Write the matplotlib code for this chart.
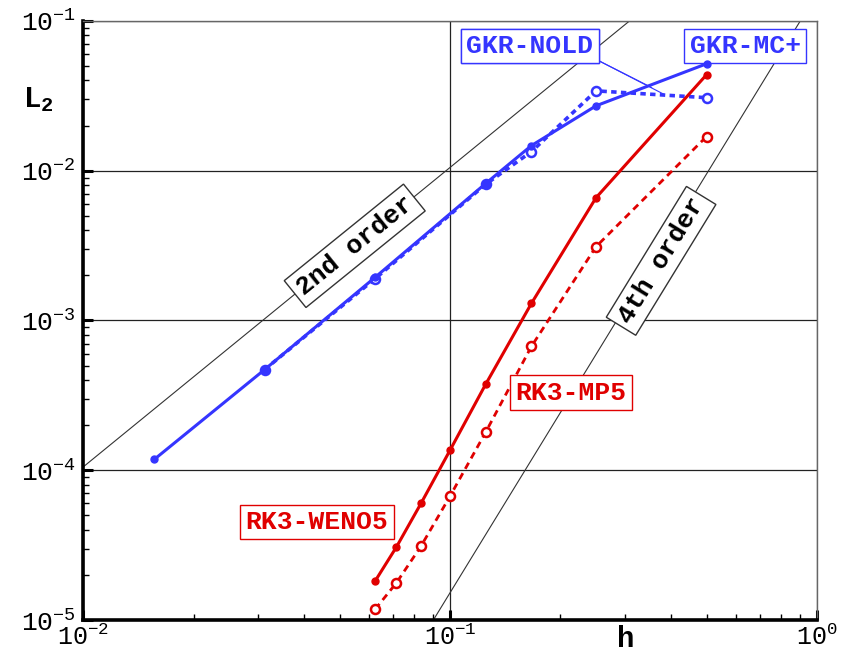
import numpy as np
import matplotlib.pyplot as plt
from matplotlib.ticker import FuncFormatter, LogLocator

plt.rcParams['font.family'] = ['Liberation Mono', 'DejaVu Sans Mono']
plt.rcParams['mathtext.fontset'] = 'custom'
plt.rcParams['mathtext.rm'] = 'Liberation Mono'
plt.rcParams['mathtext.bf'] = 'Liberation Mono:bold'

BLUE = '#3535ff'
RED = '#e00000'

# grid spacing h and L2 errors
h_mc = [1/64, 1/32, 1/16, 1/8, 1/6, 1/4, 1/2]
err_mc = [1.18e-4, 4.7e-4, 1.94e-3, 8.2e-3, 1.47e-2, 2.71e-2, 5.17e-2]

h_nold = [1/32, 1/16, 1/8, 1/6, 1/4, 1/2]
err_nold = [4.7e-4, 1.9e-3, 8.1e-3, 1.34e-2, 3.41e-2, 3.07e-2]

h_rk = [1/16, 1/14, 1/12, 1/10, 1/8, 1/6, 1/4, 1/2]
err_weno = [1.82e-5, 3.07e-5, 6.0e-5, 1.36e-4, 3.74e-4, 1.30e-3, 6.6e-3, 4.37e-2]
err_mp5 = [1.18e-5, 1.77e-5, 3.11e-5, 6.71e-5, 1.79e-4, 6.71e-4, 3.11e-3, 1.69e-2]

# reference slopes
c2 = 1.05
c4 = 0.152


def decade_label(v, pos):
    e = int(round(np.log10(v)))
    return r'$\mathrm{10^{%d}}$' % e


fig = plt.figure(figsize=(8.49, 6.52), dpi=100)
ax = fig.add_axes([0.0978, 0.049, 0.8645, 0.919])
ax.set_xscale('log')
ax.set_yscale('log')
ax.set_xlim(1e-2, 1e0)
ax.set_ylim(1e-5, 1e-1)

ax.grid(True, which='major', color='#222222', lw=0.9)
ax.set_axisbelow(True)

hh = np.logspace(-2, 0, 50)
ax.plot(hh, c2 * hh**2, color='#333333', lw=0.8, zorder=1)
ax.plot(hh, c4 * hh**4, color='#333333', lw=0.8, zorder=1)

ax.plot(h_nold, err_nold, color=BLUE, lw=2.6, ls=(0, (1.5, 1.2)), marker='o',
        ms=6.5, mfc='white', mec=BLUE, mew=1.8, zorder=3)
ax.plot(h_mc, err_mc, color=BLUE, lw=2.2, marker='o', ms=5, mfc=BLUE, mec=BLUE, zorder=4)
ax.plot(h_rk, err_mp5, color=RED, lw=2.0, ls=(0, (2.5, 1.8)), marker='o',
        ms=6.5, mfc='white', mec=RED, mew=1.8, zorder=3)
ax.plot(h_rk, err_weno, color=RED, lw=2.2, marker='o', ms=5, mfc=RED, mec=RED, zorder=4)

box_kw = dict(boxstyle='square,pad=0.2', fc='white', lw=1.0)
fs = 19
ax.annotate('GKR-NOLD', xy=(0.39, 0.0316), xytext=(0.165, 0.068), color=BLUE,
            fontsize=fs, fontweight='bold', ha='center', va='center',
            bbox=dict(ec=BLUE, **box_kw),
            arrowprops=dict(arrowstyle='-', color=BLUE, lw=0.8, shrinkA=0, relpos=(1, 0)))
ax.annotate('GKR-NOLD', xy=(0.36, 0.0352), xytext=(0.165, 0.068), color=BLUE,
            fontsize=fs, fontweight='bold', ha='center', va='center',
            bbox=dict(ec=BLUE, **box_kw),
            arrowprops=dict(arrowstyle='-', color=BLUE, lw=0.8, shrinkA=0, relpos=(1, 0)))
ax.text(0.637, 0.068, 'GKR-MC+', color=BLUE, fontsize=fs, fontweight='bold',
        ha='center', va='center', bbox=dict(ec=BLUE, **box_kw))
ax.text(0.214, 3.3e-4, 'RK3-MP5', color=RED, fontsize=fs, fontweight='bold',
        ha='center', va='center', bbox=dict(ec=RED, **box_kw))
ax.text(0.0434, 4.5e-5, 'RK3-WENO5', color=RED, fontsize=fs, fontweight='bold',
        ha='center', va='center', bbox=dict(ec=RED, **box_kw))

ax.text(0.055, 3.15e-3, '2nd order', fontsize=fs, fontweight='bold', rotation=39,
        rotation_mode='anchor', ha='center', va='center',
        bbox=dict(ec='#333333', **box_kw), zorder=2)
ax.text(0.376, 2.5e-3, '4th order', fontsize=fs, fontweight='bold', rotation=58.5,
        rotation_mode='anchor', ha='center', va='center',
        bbox=dict(ec='#333333', **box_kw), zorder=2)

ax.xaxis.set_major_formatter(FuncFormatter(decade_label))
ax.yaxis.set_major_formatter(FuncFormatter(decade_label))
ax.xaxis.set_major_locator(LogLocator(base=10, numticks=10))
ax.yaxis.set_major_locator(LogLocator(base=10, numticks=10))
ax.tick_params(which='major', direction='in', length=7, width=2.2, labelsize=fs,
               top=False, right=False, pad=5)
ax.tick_params(axis='x', which='major', pad=3, labelsize=18)
ax.tick_params(which='minor', direction='in', length=4, width=1.0,
               top=False, right=False)

for side in ['left', 'bottom']:
    ax.spines[side].set_linewidth(2.6)
for side in ['top', 'right']:
    ax.spines[side].set_linewidth(1.0)
    ax.spines[side].set_color('#666666')

ax.set_xlabel('h', fontsize=21, fontweight='bold', va='top')
ax.set_ylabel(r'$\mathbf{L_2}$', fontsize=21, rotation=0, va='center', ha='center')
ax.yaxis.set_label_coords(-0.061, 0.868)
ax.xaxis.set_label_coords(0.74, -0.008)

fig.savefig('out.png', dpi=100)
